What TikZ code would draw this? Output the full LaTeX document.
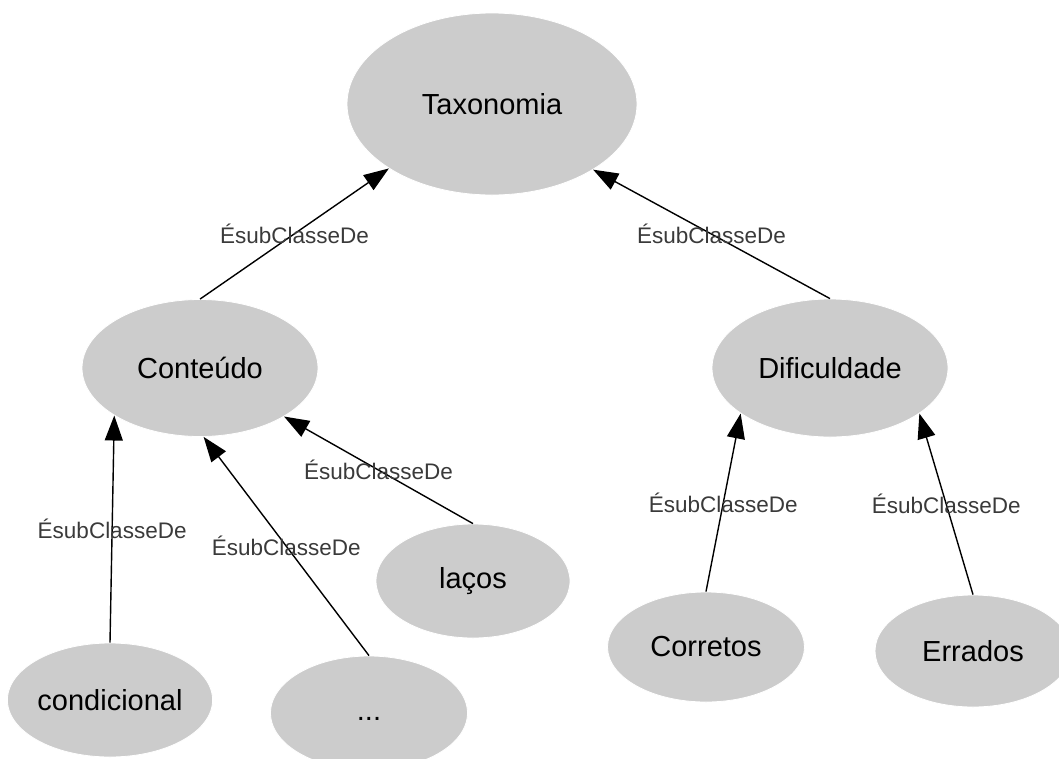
\documentclass[tikz,border=0pt]{standalone}
\usepackage{fontspec}
\setmainfont{Liberation Sans}
\usetikzlibrary{shapes.geometric,arrows.meta}
\definecolor{nodegray}{HTML}{CCCCCC}
\definecolor{lblgray}{HTML}{3A3A3A}
\tikzset{
  cls/.style={ellipse, fill=nodegray, draw=white, line width=0.8pt, inner sep=0pt,
    font=\fontsize{29}{34}\selectfont, text=black},
  sub/.style={draw=black, line width=1.4pt, -{Triangle[length=25pt,width=18pt]}},
  lbl/.style={font=\fontsize{22.5}{26}\selectfont, text=lblgray, inner sep=0pt}
}
\begin{document}
\begin{tikzpicture}[x=1pt,y=-1pt]
\clip (0,0) rectangle (1059,758);
\useasboundingbox (0,0) rectangle (1059,758);
\node[cls, minimum width=290pt, minimum height=182pt] (tax) at (492,104) {Taxonomia};
\node[cls, minimum width=236pt, minimum height=137pt] (cont) at (200,368) {Conteúdo};
\node[cls, minimum width=236pt, minimum height=138pt] (dif) at (830,368) {Dificuldade};
\node[cls, minimum width=196pt, minimum height=114pt] (cond) at (110,700) {condicional};
\node[cls, minimum width=197pt, minimum height=114pt] (dots) at (369,713) {\vphantom{x}...};
\node[cls, minimum width=194pt, minimum height=114pt] (lacos) at (473,581) {laços};
\node[cls, minimum width=197pt, minimum height=110pt] (cor) at (706,647) {Corretos};
\node[cls, minimum width=196pt, minimum height=112pt] (err) at (973,651) {Errados};

\draw[sub] (cont.north) -- (tax.212) node[midway, lbl] {ÉsubClasseDe};
\draw[sub] (dif.north) -- (tax.327) node[midway, lbl] {ÉsubClasseDe};
\draw[sub] (cond.north) -- (cont.209) node[midway, lbl] {ÉsubClasseDe};
\draw[sub] (dots.north) -- (cont.273) node[midway, lbl] {ÉsubClasseDe};
\draw[sub] (lacos.north) -- (cont.330) node[midway, lbl] {ÉsubClasseDe};
\draw[sub] (cor.north) -- (dif.207) node[midway, lbl] {ÉsubClasseDe};
\draw[sub] (err.north) -- (dif.333) node[midway, lbl] {ÉsubClasseDe};
\end{tikzpicture}
\end{document}
